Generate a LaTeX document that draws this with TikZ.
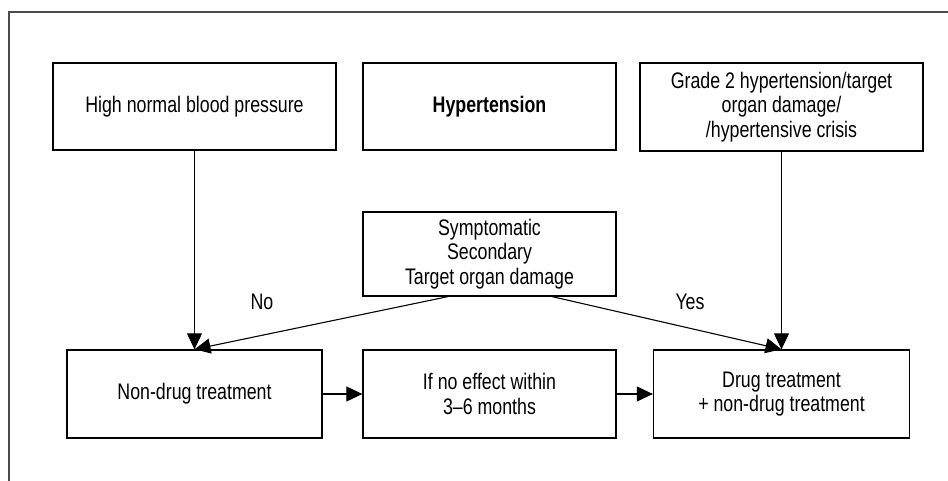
\documentclass[tikz,border=0pt]{standalone}
\usepackage{fontspec}
\setmainfont{Liberation Sans}[FakeStretch=0.79]
\usetikzlibrary{arrows.meta,calc}
\begin{document}
\begin{tikzpicture}[x=1pt,y=-1pt,
  box/.style={draw=black,line width=1.3pt,align=center,inner sep=0pt,font=\fontsize{22.5}{24.5}\selectfont},
  arr/.style={line width=1.1pt,-{Triangle[length=16pt,width=15pt]}},
  lbl/.style={font=\fontsize{22.5}{24.5}\selectfont,inner sep=0pt}]
\useasboundingbox (0,0) rectangle (948,481);
\draw[line width=1.4pt,color=black!70] (948,12) -- (9,12) -- (9,481);
\node[box,minimum width=283pt,minimum height=87pt] (hn) at (194.5,106.5) {High normal blood pressure};
\node[box,minimum width=253pt,minimum height=87pt] (ht) at (489.5,106.5) {\bfseries Hypertension};
\node[box,minimum width=283pt,minimum height=88pt] (g2) at (781.5,107) {Grade 2 hypertension/target\\organ damage/\\/hypertensive crisis};
\node[box,minimum width=253pt,minimum height=84pt] (sym) at (489.5,254) {Symptomatic\\Secondary\\Target organ damage};
\node[box,minimum width=255pt,minimum height=88pt] (nd) at (194.5,394) {Non-drug treatment};
\node[box,minimum width=253pt,minimum height=88pt] (ne) at (489.5,394) {If no effect within\\3–6 months};
\node[box,minimum width=256pt,minimum height=88pt] (dt) at (781.5,394) {Drug treatment\\+ non-drug treatment};
\coordinate (sl) at ($(sym.south west)!0.336!(sym.south east)$);
\coordinate (sr) at ($(sym.south west)!0.747!(sym.south east)$);
\draw[arr] (hn.south) -- (nd.north);
\draw[arr] (g2.south) -- (dt.north);
\draw[arr] (sl) -- (nd.north);
\draw[arr] (sr) -- (dt.north);
\draw[arr] (nd.east) -- (ne.west);
\draw[arr] (ne.east) -- (dt.west);
\node[lbl] (no) at (262,302) {No};
\node[lbl] (yes) at (690,302) {Yes};
\end{tikzpicture}
\end{document}
